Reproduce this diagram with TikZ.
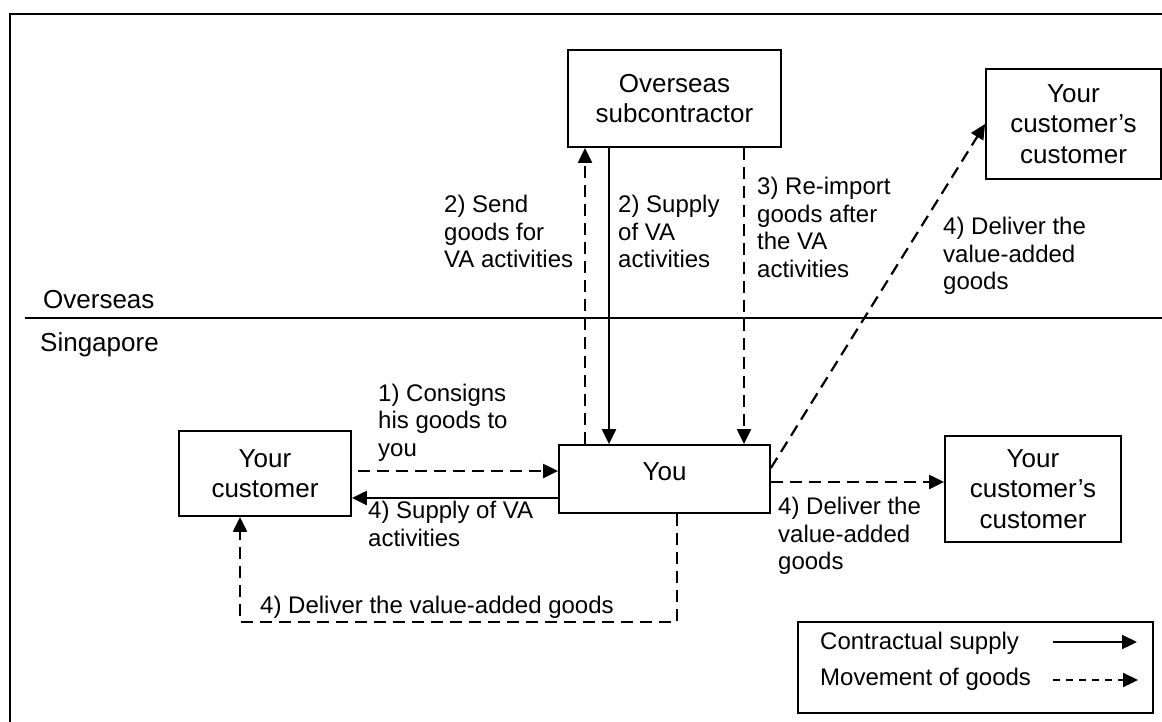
\documentclass[tikz,border=0pt]{standalone}
\usepackage{fontspec}
\setmainfont{Liberation Sans}
\usetikzlibrary{arrows.meta}
\begin{document}
\begin{tikzpicture}[x=1pt,y=-1pt,
  box/.style={draw, line width=1.8pt, inner sep=0pt, align=center, font=\fontsize{26}{30.5}\selectfont},
  lbl/.style={anchor=west, inner sep=0pt, align=left, font=\fontsize{24}{27.5}\selectfont},
  zone/.style={anchor=west, inner sep=0pt, font=\fontsize{26}{30}\selectfont},
  contract/.style={line width=2.2pt, -{Triangle[length=15pt,width=14pt]}},
  goods/.style={contract, dash pattern=on 12pt off 7pt},
  leggoods/.style={contract, dash pattern=on 7pt off 6pt},
]
\useasboundingbox (0,0) rectangle (1162,721);
\fill[white] (0,0) rectangle (1162,721);
\clip (0,0) rectangle (1162,721);
% outer frame
\draw[line width=2.5pt] (10,14) rectangle (1185,745);
% divider
\coordinate (dv1) at (25,318);
\coordinate (dv2) at (1170,318);
\draw[line width=1.3pt] (dv1) -- (dv2);
\node[zone] (ov) at (43,300) {Overseas};
\node[zone] (sg) at (40,345) {Singapore};

% boxes
\node[box, minimum width=213pt, minimum height=97pt] (sub) at (674.5,98.5) {Overseas\\subcontractor};
\node[box, minimum width=175pt, minimum height=110pt] (cc1) at (1073.5,124) {Your\\customer’s\\customer};
\node[box, minimum width=211pt, minimum height=68pt] (you) at (664.5,479) {\raisebox{14pt}{You}};
\node[box, minimum width=172pt, minimum height=85pt] (cust) at (265,473.5) {Your\\customer};
\node[box, minimum width=176pt, minimum height=106pt] (cc2) at (1033,489) {Your\\customer’s\\customer};
\node[box, line width=2pt, minimum width=355pt, minimum height=91pt] (leg) at (975.5,667.5) {};

% labels
\node[lbl] (l1) at (444,231.5) {2) Send\\goods for\\VA activities};
\node[lbl] (l2) at (618,231.5) {2) Supply\\of VA\\activities};
\node[lbl] (l3) at (757,227.5) {3) Re-import\\goods after\\the VA\\activities};
\node[lbl] (l4) at (943,256) {4) Deliver the\\value-added\\goods};
\node[lbl] (l5) at (378,422.5) {1) Consigns\\his goods to\\you};
\node[lbl] (l6) at (368,524) {4) Supply of VA\\activities};
\node[lbl] (l7) at (778,536) {4) Deliver the\\value-added\\goods};
\node[lbl] (l8) at (260,607) {4) Deliver the value-added goods};
\node[lbl] (lg1) at (820,643) {Contractual supply};
\node[lbl] (lg2) at (820,679) {Movement of goods};

% helper coordinates
\coordinate (xa) at (585,0);
\coordinate (xb) at (609,0);
\coordinate (xc) at (744,0);
\coordinate (xd) at (677,0);
\coordinate (xe) at (240,0);
\coordinate (ya) at (0,471);
\coordinate (yb) at (0,498);
\coordinate (yc) at (0,482);
\coordinate (yd) at (0,468);
\coordinate (ye) at (0,622);

% connectors
\draw[goods] (you.north -| xa) -- (sub.south -| xa);
\draw[contract] (sub.south -| xb) -- (you.north -| xb);
\draw[goods] (sub.south -| xc) -- (you.north -| xc);
\draw[goods, shorten <=6pt] (cust.east |- ya) -- (you.west |- ya);
\draw[contract] (you.west |- yb) -- (cust.east |- yb);
\draw[goods] (you.east |- yc) -- (cc2.west |- yc);
\draw[goods] (you.east |- yd) -- (cc1.west);
\draw[goods] (you.south -| xd) -- (xd |- ye) -| (cust.south -| xe);

% legend arrows
\coordinate (la1) at (1053,642);
\coordinate (la2) at (1137,642);
\coordinate (lb1) at (1053,680);
\coordinate (lb2) at (1138,680);
\draw[contract] (la1) -- (la2);
\draw[leggoods] (lb1) -- (lb2);
\end{tikzpicture}
\end{document}
